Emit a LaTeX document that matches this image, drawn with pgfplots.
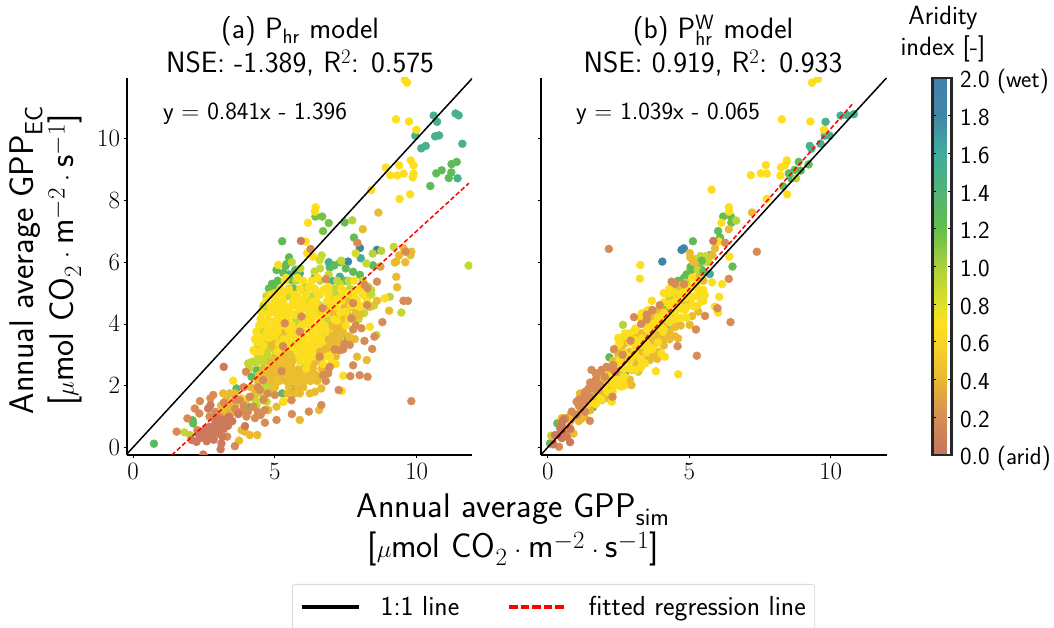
\documentclass[border=0pt]{standalone}
\usepackage{pgfplots}
\pgfplotsset{compat=1.18}
\renewcommand{\familydefault}{\sfdefault}
\pgfplotstableread[row sep=\\]{
x y m\\
10.60 10.75 1.5\\ 10.72 10.55 1.5\\ 9.95 10.10 1.5\\ 10.65 10.08 1.5\\ 10.79 10.11 1.5\\ 10.16 9.69 1.5\\ 10.32 9.77 1.5\\ 11.61 9.84 1.5\\ 11.37 10.82 1.5\\ 11.48 10.76 1.5\\ 11.44 8.72 1.5\\
10.48 8.47 1.25\\ 10.69 8.88 1.25\\ 10.88 8.98 1.25\\ 11.22 8.91 1.25\\ 11.13 8.73 1.25\\ 11.23 9.18 1.25\\ 11.41 9.25 1.25\\
6.43 7.48 1.15\\ 6.67 7.48 1.15\\ 6.90 7.27 1.15\\ 6.70 7.01 1.15\\ 5.26 6.68 1.25\\ 5.50 6.16 1.25\\ 7.46 7.29 1.2\\ 7.79 6.80 1.25\\ 5.41 5.94 1.2\\
8.00 6.46 1.85\\ 8.60 6.40 1.85\\ 7.58 6.02 1.8\\ 8.03 6.13 1.6\\ 5.73 5.75 1.6\\ 8.46 5.90 1.3\\ 6.94 5.83 1.3\\ 5.06 5.75 1.25\\ 5.37 5.86 1.25\\ 5.00 5.19 1.2\\ 4.79 5.15 1.2\\ 5.88 5.64 1.55\\ 5.59 5.42 1.2\\ 5.65 5.15 1.2\\ 6.94 5.86 1.3\\ 7.29 5.53 1.55\\ 7.76 5.69 1.25\\ 8.00 5.59 1.25\\ 4.77 4.40 1.25\\ 7.14 4.34 1.25\\ 7.17 3.86 1.25\\ 7.56 3.57 1.3\\ 4.36 2.51 1.25\\ 4.18 2.29 1.25\\ 3.65 1.91 1.3\\ 4.36 1.80 1.3\\ 5.26 1.75 1.3\\ 2.12 0.78 1.25\\ 2.10 0.88 1.25\\ 0.74 0.12 1.3\\ 6.1 5.2 1.2\\ 6.4 5.5 1.25\\ 7.0 5.4 1.5\\ 7.5 5.8 1.25\\ 5.4 2.9 1.5\\ 6.0 2.6 1.55\\ 6.5 2.2 1.3\\ 5.6 1.9 1.5\\ 4.1 1.3 1.3\\ 3.4 1.2 1.25\\ 5.1 5.4 1.25\\ 7.5 5.4 1.25\\ 5.3 5.65 1.25\\ 5.5 5.6 1.55\\ 5.7 5.7 1.25\\ 6.9 6.0 1.55\\ 7.1 5.9 1.25\\ 7.3 6.0 1.25\\ 4.9 5.3 1.25\\
7.73 7.36 0.95\\ 6.65 6.22 0.9\\ 6.58 6.07 0.85\\ 7.85 6.29 0.85\\ 8.45 6.28 0.95\\ 8.75 6.37 0.95\\ 9.19 6.50 0.9\\ 7.34 6.05 0.9\\ 8.23 5.96 0.9\\ 11.83 5.89 0.9\\ 4.59 4.40 0.9\\ 1.81 0.49 0.9\\ 2.01 0.40 0.95\\ 4.24 2.78 0.9\\ 4.06 2.72 0.9\\ 4.71 2.13 0.9\\ 4.88 2.18 0.9\\ 4.82 1.91 0.9\\ 4.59 1.53 0.9\\ 4.36 1.37 0.9\\ 4.71 1.48 0.9\\ 9.46 4.37 0.9\\ 9.05 4.88 0.95\\ 8.58 3.64 0.9\\ 8.40 5.10 0.9\\
4.4 3.0 0.9\\ 4.6 3.0 0.9\\ 4.8 3.3 0.9\\ 5.0 2.8 0.9\\ 5.2 3.7 0.9\\ 5.5 4.9 0.9\\ 5.9 4.6 0.9\\ 6.3 4.9 0.9\\ 6.6 5.8 0.9\\ 6.9 5.6 0.9\\ 7.3 5.3 0.9\\ 7.6 5.4 0.9\\ 8.2 4.9 0.9\\ 8.5 4.6 0.9\\ 8.3 5.2 0.9\\ 7.0 4.9 0.9\\ 6.4 5.7 0.9\\ 5.9 5.8 0.9\\ 5.6 6.0 0.9\\ 4.7 4.9 0.9\\ 4.6 4.6 0.9\\ 5.1 4.7 0.9\\ 6.2 4.3 0.9\\ 6.6 4.6 0.9\\ 6.8 3.3 0.9\\ 7.4 3.3 0.9\\ 4.9 2.9 0.9\\ 5.3 2.7 0.9\\ 5.7 2.9 0.9\\ 6.0 5.1 0.9\\ 5.2 4.3 0.9\\
5.75 5.4 0.9\\ 6.6 5.4 0.9\\ 7.2 5.4 0.9\\ 8.1 5.4 0.9\\ 5.5 5.15 0.9\\ 6.15 5.15 0.9\\ 7.1 5.15 0.9\\ 7.65 5.15 0.9\\ 7.15 4.95 0.9\\ 8.4 4.95 0.9\\ 6.2 4.75 0.9\\ 4.6 4.55 0.9\\ 7.7 4.55 0.9\\ 6.5 4.35 0.9\\ 8.15 4.35 0.9\\ 5.75 4.15 0.9\\ 6.85 4.15 0.9\\ 7.95 4.15 0.9\\ 5.85 3.95 0.9\\ 4.6 3.75 0.9\\ 5.25 3.55 0.9\\ 4.4 3.35 0.9\\ 4.65 3.35 0.9\\ 4.9 3.35 0.9\\ 5.7 3.35 0.9\\ 4.5 3.15 0.9\\ 4.75 3.15 0.9\\ 5.0 3.15 0.9\\ 4.5 2.95 0.9\\ 4.75 2.95 0.9\\ 4.15 2.75 0.9\\ 4.35 2.75 0.9\\ 4.6 2.75 0.9\\ 4.1 2.55 0.9\\ 4.6 2.15 0.9\\ 4.65 1.95 0.9\\ 4.5 1.75 0.9\\ 4.3 1.55 0.9\\ 3.3 1.35 0.9\\
8.65 7.61 0.42\\ 8.10 7.07 0.42\\ 9.28 6.02 0.42\\ 9.60 6.00 0.42\\ 9.38 6.22 0.42\\ 9.54 6.45 0.42\\ 9.81 6.34 0.42\\ 9.78 6.23 0.42\\ 9.23 5.99 0.42\\ 9.31 5.19 0.42\\ 9.28 5.53 0.42\\ 9.54 4.75 0.42\\ 9.03 4.43 0.42\\ 7.90 2.94 0.42\\ 8.24 2.83 0.42\\ 7.82 3.51 0.42\\ 5.88 0.89 0.42\\ 6.56 1.21 0.42\\ 6.23 1.75 0.42\\ 6.41 1.80 0.42\\ 6.64 1.91 0.42\\ 5.88 1.75 0.42\\ 5.30 1.48 0.42\\ 5.06 1.32 0.42\\ 4.77 1.21 0.42\\ 3.18 1.75 0.42\\ 3.42 1.75 0.42\\ 3.47 1.32 0.42\\ 3.94 0.51 0.42\\ 3.83 0.56 0.42\\ 4.12 0.40 0.42\\ 4.38 0.40 0.42\\ 3.74 0.22 0.42\\
5.0 2.6 0.42\\ 5.2 2.2 0.42\\ 5.0 2.0 0.42\\ 4.8 2.3 0.42\\ 4.6 2.5 0.42\\ 5.4 3.0 0.42\\ 5.5 2.4 0.42\\ 5.8 2.3 0.42\\ 6.0 2.1 0.42\\ 6.3 2.6 0.42\\ 6.6 3.6 0.42\\ 7.0 3.3 0.42\\ 7.1 3.9 0.42\\ 7.4 4.2 0.42\\ 7.6 3.6 0.42\\ 5.2 4.4 0.42\\ 4.9 3.3 0.42\\ 5.2 3.1 0.42\\ 7.8 4.2 0.42\\ 8.0 4.3 0.42\\
7.6 4.75 0.42\\ 8.6 4.75 0.42\\ 6.9 4.55 0.42\\ 7.45 4.55 0.42\\ 8.35 4.55 0.42\\ 7.05 4.35 0.42\\ 7.55 4.35 0.42\\ 7.85 4.35 0.42\\ 7.35 4.15 0.42\\ 7.0 3.95 0.42\\ 7.3 3.95 0.42\\ 5.35 3.75 0.42\\ 6.85 3.75 0.42\\ 7.15 3.75 0.42\\ 7.4 3.75 0.42\\ 5.05 3.55 0.42\\ 7.1 3.55 0.42\\ 7.3 3.55 0.42\\ 7.65 3.55 0.42\\ 6.95 3.35 0.42\\ 7.2 3.35 0.42\\ 5.3 3.15 0.42\\ 6.8 3.15 0.42\\ 7.05 3.15 0.42\\ 5.05 2.95 0.42\\ 5.25 2.95 0.42\\ 5.55 2.95 0.42\\ 6.6 2.95 0.42\\ 7.15 2.95 0.42\\ 4.85 2.75 0.42\\ 5.15 2.75 0.42\\ 5.35 2.75 0.42\\ 5.6 2.75 0.42\\ 6.4 2.75 0.42\\ 6.65 2.75 0.42\\ 4.6 2.55 0.42\\ 4.85 2.55 0.42\\ 5.1 2.55 0.42\\ 5.35 2.55 0.42\\ 5.6 2.55 0.42\\ 5.85 2.55 0.42\\ 6.35 2.55 0.42\\ 6.65 2.55 0.42\\ 4.45 2.35 0.42\\ 4.7 2.35 0.42\\ 4.95 2.35 0.42\\ 5.2 2.35 0.42\\ 5.45 2.35 0.42\\ 5.7 2.35 0.42\\ 5.95 2.35 0.42\\ 6.2 2.35 0.42\\ 6.45 2.35 0.42\\ 4.4 2.15 0.42\\ 4.9 2.15 0.42\\ 5.15 2.15 0.42\\ 5.4 2.15 0.42\\ 5.6 2.15 0.42\\ 5.8 2.15 0.42\\ 6.05 2.15 0.42\\ 6.25 2.15 0.42\\ 6.5 2.15 0.42\\ 4.15 1.95 0.42\\ 5.0 1.95 0.42\\ 5.5 1.95 0.42\\ 5.8 1.95 0.42\\ 6.0 1.95 0.42\\ 3.6 1.75 0.42\\ 4.3 1.75 0.42\\ 5.45 1.75 0.42\\ 5.7 1.75 0.42\\ 3.3 1.55 0.42\\ 4.0 1.55 0.42\\ 3.1 1.35 0.42\\ 3.6 1.35 0.42\\ 3.2 1.15 0.42\\ 3.5 1.15 0.42\\
8.25 5.15 0.2\\ 7.85 3.95 0.2\\ 7.45 3.35 0.2\\ 7.3 3.15 0.2\\ 6.9 2.55 0.2\\ 6.7 2.35 0.2\\ 6.8 2.15 0.2\\ 3.9 1.95 0.2\\ 4.4 1.95 0.2\\ 4.75 1.75 0.2\\ 3.6 1.55 0.2\\ 4.6 1.55 0.2\\ 3.9 1.35 0.2\\ 2.9 1.15 0.2\\ 3.8 1.15 0.2\\ 4.05 1.15 0.2\\ 4.4 1.15 0.2\\ 2.7 1.0 0.2\\ 3.0 1.0 0.2\\ 3.4 1.0 0.2\\ 3.6 1.25 0.2\\ 4.0 1.0 0.2\\ 4.3 0.95 0.2\\ 4.5 1.05 0.2\\ 3.2 1.45 0.2\\
4.3 3.5 0.68\\ 4.4 3.4 0.68\\ 4.6 3.3 0.68\\ 4.5 3.1 0.68\\ 4.3 3.1 0.68\\ 4.7 3.7 0.68\\ 4.9 3.9 0.68\\ 5.0 4.1 0.68\\ 4.7 4.0 0.68\\ 4.9 4.4 0.68\\ 5.2 4.6 0.68\\ 5.4 4.5 0.68\\ 5.6 4.6 0.68\\ 5.8 4.9 0.68\\ 5.0 5.0 0.68\\ 5.3 5.0 0.68\\ 5.5 5.1 0.68\\ 5.3 4.2 0.68\\ 5.7 4.3 0.68\\ 6.0 4.5 0.68\\ 6.3 4.7 0.68\\ 6.5 5.0 0.68\\ 6.7 5.1 0.68\\ 6.9 5.2 0.68\\ 6.4 4.3 0.68\\ 6.7 4.4 0.68\\ 7.0 4.6 0.68\\ 7.2 4.8 0.68\\ 7.5 5.0 0.68\\ 7.8 4.9 0.68\\ 8.0 4.6 0.68\\ 7.9 5.1 0.68\\ 5.5 3.8 0.68\\ 5.9 3.9 0.68\\ 6.1 4.0 0.68\\ 6.3 3.6 0.68\\ 6.0 3.5 0.68\\ 5.8 3.4 0.68\\ 6.2 3.2 0.68\\ 6.5 3.5 0.68\\ 6.6 3.2 0.68\\ 6.4 3.0 0.68\\ 6.2 2.9 0.68\\ 6.7 2.7 0.68\\ 6.9 3.0 0.68\\ 5.3 3.5 0.68\\ 5.0 3.6 0.68\\ 5.1 3.1 0.68\\ 5.6 3.2 0.68\\ 5.9 3.0 0.68\\ 6.0 4.8 0.68\\ 6.2 5.2 0.68\\ 5.8 5.5 0.68\\ 6.0 5.4 0.68\\ 6.5 5.5 0.68\\ 5.4 5.5 0.68\\ 7.0 3.6 0.68\\ 7.2 4.1 0.68\\ 6.8 3.8 0.68\\ 7.5 4.4 0.68\\ 7.7 4.6 0.68\\ 8.35 3.91 0.68\\ 8.87 4.83 0.68\\ 7.15 2.70 0.68\\ 7.41 2.32 0.68\\ 6.94 2.94 0.68\\ 7.36 1.83 0.68\\ 5.32 1.50 0.68\\ 3.53 2.16 0.68\\ 3.83 1.59 0.68\\
5.35 5.4 0.68\\ 6.3 5.4 0.68\\ 7.8 5.4 0.68\\ 5.2 5.15 0.68\\ 5.9 5.15 0.68\\ 6.4 5.15 0.68\\ 6.8 5.15 0.68\\ 7.35 5.15 0.68\\ 8.0 5.15 0.68\\ 4.85 4.95 0.68\\ 5.1 4.95 0.68\\ 5.7 4.95 0.68\\ 6.1 4.95 0.68\\ 6.6 4.95 0.68\\ 6.9 4.95 0.68\\ 7.4 4.95 0.68\\ 7.7 4.95 0.68\\ 8.1 4.95 0.68\\ 4.7 4.75 0.68\\ 5.0 4.75 0.68\\ 5.3 4.75 0.68\\ 5.65 4.75 0.68\\ 5.95 4.75 0.68\\ 6.45 4.75 0.68\\ 6.85 4.75 0.68\\ 7.1 4.75 0.68\\ 7.35 4.75 0.68\\ 7.9 4.75 0.68\\ 8.25 4.75 0.68\\ 4.85 4.55 0.68\\ 5.1 4.55 0.68\\ 5.45 4.55 0.68\\ 5.8 4.55 0.68\\ 6.1 4.55 0.68\\ 6.35 4.55 0.68\\ 6.55 4.55 0.68\\ 7.15 4.55 0.68\\ 8.0 4.55 0.68\\ 4.55 4.35 0.68\\ 4.8 4.35 0.68\\ 5.05 4.35 0.68\\ 5.3 4.35 0.68\\ 5.55 4.35 0.68\\ 5.85 4.35 0.68\\ 6.2 4.35 0.68\\ 6.8 4.35 0.68\\ 7.3 4.35 0.68\\ 4.5 4.15 0.68\\ 4.75 4.15 0.68\\ 5.15 4.15 0.68\\ 5.45 4.15 0.68\\ 6.0 4.15 0.68\\ 6.3 4.15 0.68\\ 6.6 4.15 0.68\\ 7.1 4.15 0.68\\ 7.6 4.15 0.68\\ 4.45 3.95 0.68\\ 4.7 3.95 0.68\\ 5.05 3.95 0.68\\ 5.3 3.95 0.68\\ 5.6 3.95 0.68\\ 6.25 3.95 0.68\\ 6.5 3.95 0.68\\ 6.75 3.95 0.68\\ 7.5 3.95 0.68\\ 4.35 3.75 0.68\\ 4.85 3.75 0.68\\ 5.1 3.75 0.68\\ 5.65 3.75 0.68\\ 6.0 3.75 0.68\\ 6.3 3.75 0.68\\ 6.55 3.75 0.68\\ 4.35 3.55 0.68\\ 4.55 3.55 0.68\\ 4.8 3.55 0.68\\ 5.5 3.55 0.68\\ 5.75 3.55 0.68\\ 6.05 3.55 0.68\\ 6.35 3.55 0.68\\ 6.6 3.55 0.68\\ 6.85 3.55 0.68\\ 5.15 3.35 0.68\\ 5.45 3.35 0.68\\ 5.95 3.35 0.68\\ 6.2 3.35 0.68\\ 6.45 3.35 0.68\\ 6.7 3.35 0.68\\ 4.25 3.15 0.68\\ 5.55 3.15 0.68\\ 5.8 3.15 0.68\\ 6.05 3.15 0.68\\ 6.3 3.15 0.68\\ 6.55 3.15 0.68\\ 5.85 2.95 0.68\\ 6.1 2.95 0.68\\ 6.35 2.95 0.68\\ 6.85 2.95 0.68\\ 5.9 2.75 0.68\\ 6.15 2.75 0.68\\ 7.0 2.75 0.68\\ 6.1 2.55 0.68\\
9.58 11.91 0.68\\ 9.66 11.82 0.68\\ 9.27 10.63 0.68\\ 9.73 10.56 0.68\\ 9.99 10.29 0.68\\ 8.91 9.07 0.68\\ 9.38 9.14 0.68\\ 9.07 8.82 0.68\\ 9.32 8.81 0.68\\ 9.54 8.87 0.68\\ 9.79 9.30 0.68\\ 9.89 9.14 0.68\\ 9.89 8.87 0.68\\ 9.86 8.75 0.68\\ 8.40 8.34 0.68\\ 9.40 8.05 0.68\\ 9.77 8.20 0.68\\ 6.44 7.78 0.68\\ 6.41 7.64 0.68\\ 6.17 7.28 0.68\\ 6.09 6.67 0.68\\ 6.14 6.29 0.68\\ 6.35 6.18 0.68\\ 5.12 5.91 0.68\\
5.5 2.3 0.45\\ 5.65 2.2 0.45\\ 5.8 2.15 0.45\\ 5.95 2.3 0.45\\ 6.1 2.2 0.45\\ 6.3 2.25 0.45\\ 5.45 2.45 0.45\\ 5.65 2.4 0.45\\ 5.4 2.95 0.45\\ 5.55 3.0 0.45\\ 5.3 2.95 0.45\\ 5.1 2.2 0.45\\ 5.0 2.0 0.45\\ 6.6 3.1 0.4\\ 6.9 3.5 0.4\\ 6.8 3.2 0.4\\ 5.25 2.75 0.45\\ 5.5 2.7 0.45\\ 7.05 3.6 0.4\\ 7.2 3.85 0.4\\
6.26 6.43 0.2\\ 7.91 6.63 0.2\\ 9.61 6.34 0.2\\ 8.72 5.86 0.3\\ 1.54 0.51 0.2\\ 1.92 0.94 0.2\\ 2.18 1.26 0.2\\ 2.34 1.10 0.2\\ 2.36 1.50 0.2\\ 2.83 1.70 0.2\\ 2.73 1.59 0.2\\ 2.27 0.56 0.2\\ 3.32 0.35 0.2\\ 3.59 0.04 0.2\\ 3.06 0.99 0.2\\ 3.98 2.45 0.2\\ 4.65 0.80 0.2\\ 5.06 0.89 0.2\\ 5.60 1.08 0.2\\ 6.20 1.16 0.2\\ 6.64 1.37 0.2\\ 5.59 1.53 0.2\\ 7.25 1.86 0.2\\ 7.76 2.66 0.2\\ 7.99 2.34 0.2\\ 8.27 2.29 0.2\\ 7.66 2.31 0.2\\ 9.81 1.50 0.2\\ 8.79 4.06 0.2\\ 8.43 3.19 0.2\\ 8.16 3.45 0.2\\ 8.51 3.59 0.2\\ 8.05 3.86 0.2\\ 7.76 3.82 0.2\\ 7.64 3.32 0.2\\ 7.11 3.18 0.2\\ 7.41 3.18 0.2\\ 6.94 2.61 0.2\\ 6.88 2.40 0.2\\ 6.58 2.94 0.2\\ 5.88 3.75 0.2\\ 5.29 3.28 0.2\\ 5.35 4.02 0.2\\ 5.94 4.24 0.2\\ 6.68 4.51 0.2\\ 8.25 4.61 0.2\\ 7.76 4.67 0.2\\ 8.60 5.37 0.2\\ 9.54 4.75 0.2\\ 9.69 4.75 0.2\\ 6.80 5.45 0.2\\ 8.17 5.26 0.2\\ 7.70 4.18 0.2\\ 4.24 1.32 0.2\\ 4.65 1.21 0.2\\ 5.00 1.70 0.2\\ 4.47 1.86 0.2\\ 4.12 1.64 0.2\\ 3.77 1.53 0.2\\ 4.59 2.18 0.2\\ 5.24 2.47 0.2\\
2.48 0.35 0.05\\ 2.65 0.45 0.05\\ 2.83 0.62 0.05\\ 3.00 0.78 0.05\\ 3.18 0.89 0.05\\ 3.36 0.99 0.05\\ 2.71 0.67 0.05\\ 2.89 0.45 0.05\\ 3.06 0.62 0.05\\ 2.48 0.51 0.05\\ 2.24 0.18 0.05\\ 2.07 0.24 0.05\\ 3.12 0.13 0.05\\ 3.09 -0.06 0.05\\ 2.48 -0.23 0.05\\ 2.65 1.26 0.05\\ 2.73 1.37 0.05\\ 3.71 1.08 0.05\\ 3.95 0.69 0.05\\ 3.20 2.61 0.05\\ 5.92 6.69 0.05\\ 2.60 0.30 0.05\\ 2.95 0.70 0.05\\ 3.25 0.80 0.05\\ 2.75 0.5 0.05\\ 2.55 0.6 0.05\\ 2.9 0.85 0.05\\ 3.1 0.75 0.05\\ 2.35 0.3 0.05\\ 3.3 0.9 0.05\\ 3.5 0.85 0.05\\ 3.2 0.6 0.05\\ 3.35 0.7 0.05\\ 2.6 0.2 0.05\\ 2.75 0.3 0.05\\ 3.0 0.45 0.05\\ 3.15 0.35 0.05\\ 2.85 0.25 0.05\\ 2.3 0.45 0.05\\ 2.95 0.95 0.05\\
}\tableA
\pgfplotstableread[row sep=\\]{
x y m\\
10.35 10.75 1.5\\ 10.59 10.76 1.5\\ 10.82 10.80 1.5\\ 9.82 10.55 1.5\\ 9.79 10.10 1.5\\ 9.96 10.10 1.5\\ 9.64 9.84 1.5\\ 9.26 9.77 1.5\\ 9.32 9.68 1.5\\ 8.61 8.72 1.5\\ 8.32 8.46 1.25\\ 8.52 8.88 1.25\\ 8.87 9.25 1.25\\ 8.73 8.99 1.25\\ 8.94 8.97 1.25\\ 9.22 9.17 1.25\\ 8.78 8.72 0.95\\
6.20 7.48 1.2\\ 6.47 7.48 1.2\\ 6.49 7.28 1.2\\ 6.02 7.01 1.25\\ 6.09 6.80 1.25\\ 5.13 6.68 1.25\\ 6.53 5.86 1.2\\ 5.47 6.02 1.3\\ 6.66 7.35 0.95\\ 4.05 6.02 1.85\\ 4.73 6.40 1.85\\ 4.81 6.45 1.85\\ 5.74 6.23 1.6\\ 5.73 5.62 1.6\\
5.2 6.1 0.9\\ 5.4 6.2 0.9\\ 5.6 6.2 0.9\\ 5.7 6.0 0.9\\ 5.3 5.9 0.9\\ 5.5 6.0 0.9\\ 5.1 5.8 0.9\\ 5.0 5.7 0.9\\ 5.05 5.85 1.25\\ 4.82 5.5 1.25\\ 4.61 5.40 1.25\\ 5.30 5.80 1.25\\ 5.44 6.05 1.25\\ 5.45 5.75 1.25\\
7.22 7.61 0.42\\ 6.40 7.07 0.42\\ 5.02 6.30 0.42\\ 5.04 6.15 0.42\\ 5.14 6.02 0.42\\ 5.91 6.45 0.42\\ 5.82 6.23 0.42\\ 5.32 5.42 0.42\\ 5.20 5.96 0.42\\ 5.40 5.70 0.42\\
2.66 3.97 0.95\\ 2.18 2.92 1.25\\ 3.34 4.10 1.25\\ 0.34 0.78 1.25\\ 0.08 0.13 1.25\\ 0.12 0.38 0.9\\ 2.0 2.1 1.25\\ 1.6 1.3 1.25\\ 1.2 0.95 1.55\\ 2.75 2.45 1.25\\ 3.2 2.45 0.9\\ 3.0 2.95 1.55\\ 4.2 3.9 1.25\\ 4.5 4.0 1.55\\ 5.0 4.7 0.9\\ 4.5 5.2 0.9\\ 4.4 4.9 1.25\\ 4.7 5.1 0.9\\ 4.9 5.1 0.9\\ 4.5 4.7 0.9\\ 4.2 4.5 1.25\\ 1.25 1.0 0.9\\ 3.4 3.4 0.9\\ 2.2 1.9 1.2\\ 4.3 4.3 0.9\\ 4.3 4.85 0.9\\ 4.7 4.75 0.9\\ 4.7 5.05 0.9\\ 4.9 5.35 0.9\\ 4.9 5.6 1.25\\ 5.1 5.2 0.9\\ 5.1 5.75 1.25\\ 5.3 5.75 0.9\\ 5.5 5.7 1.25\\
1.14 1.75 0.42\\ 0.91 0.45 0.42\\ 2.14 2.02 0.42\\ 2.61 3.16 0.42\\ 2.67 2.83 0.42\\ 2.96 2.51 0.42\\ 2.91 2.05 0.42\\ 3.20 2.56 0.42\\ 3.61 2.83 0.42\\ 3.79 3.37 0.42\\ 4.08 3.48 0.42\\ 4.61 3.53 0.42\\ 4.49 4.02 0.42\\ 5.02 3.97 0.42\\ 5.32 4.40 0.42\\ 4.91 4.67 0.42\\ 3.55 3.97 0.42\\ 3.67 4.45 0.42\\ 3.91 3.48 0.42\\ 2.38 2.02 0.42\\ 1.91 1.53 0.42\\ 1.55 1.43 0.42\\ 2.96 2.02 0.42\\ 3.87 2.87 0.42\\ 3.1 2.9 0.42\\ 2.2 2.4 0.42\\ 3.4 3.1 0.42\\ 4.2 3.7 0.42\\ 3.9 4.0 0.42\\ 4.4 4.3 0.42\\ 4.1 4.4 0.42\\ 3.7 4.2 0.42\\ 1.4 1.2 0.42\\ 1.8 2.2 0.42\\ 0.7 0.6 0.42\\ 1.0 1.0 0.42\\
0.2 0.35 0.42\\ 0.5 0.55 0.42\\ 0.5 0.95 0.42\\ 0.8 0.85 0.42\\ 0.8 1.05 0.42\\ 0.8 0.45 0.42\\ 1.1 0.85 0.42\\ 1.1 1.1 0.42\\ 1.3 1.0 0.42\\ 1.5 1.2 0.42\\ 1.7 1.6 0.42\\ 1.9 1.75 0.42\\ 1.9 2.25 0.42\\ 2.1 1.6 0.42\\ 2.1 2.05 0.42\\ 2.3 2.3 0.42\\ 2.3 2.8 0.42\\ 2.5 2.25 0.42\\ 2.5 2.5 0.42\\ 2.5 3.0 0.42\\ 2.7 2.8 0.42\\ 2.7 3.35 0.42\\ 2.9 2.2 0.42\\ 2.9 3.1 0.42\\ 3.1 2.75 0.42\\ 3.1 3.55 0.42\\ 3.3 3.1 0.42\\ 3.3 3.7 0.42\\ 3.5 2.85 0.42\\ 3.5 3.6 0.42\\ 3.5 4.4 0.42\\ 3.7 2.95 0.42\\ 3.7 3.5 0.42\\ 3.7 3.75 0.42\\ 3.7 4.25 0.42\\ 3.9 3.1 0.42\\ 3.9 3.65 0.42\\ 3.9 4.45 0.42\\ 4.1 3.3 0.42\\ 4.1 3.6 0.42\\ 4.1 4.1 0.42\\ 4.3 3.5 0.42\\ 4.3 3.75 0.42\\ 4.5 3.6 0.42\\ 4.5 3.9 0.42\\ 4.7 3.95 0.42\\ 4.7 5.25 0.42\\ 5.1 4.25 0.42\\ 5.3 5.5 0.42\\ 5.5 5.4 0.42\\
2.26 1.48 0.68\\ 1.85 1.59 0.68\\ 2.49 3.53 0.68\\ 2.55 3.37 0.68\\ 2.73 3.69 0.68\\ 3.08 3.80 0.68\\ 3.32 3.53 0.68\\ 3.55 3.21 0.68\\ 3.08 3.48 0.68\\ 2.96 2.94 0.68\\ 3.44 2.72 0.68\\ 2.61 1.97 0.68\\ 2.67 2.13 0.68\\ 2.49 2.18 0.68\\ 3.32 4.34 0.68\\ 4.08 3.75 0.68\\ 4.26 4.99 0.68\\ 4.38 4.67 0.68\\ 4.73 4.99 0.68\\ 5.32 4.99 0.68\\ 5.55 4.94 0.68\\ 5.44 4.78 0.68\\ 5.08 4.83 0.68\\ 5.20 4.56 0.68\\ 4.85 4.45 0.68\\ 4.49 4.45 0.68\\ 4.26 4.29 0.68\\ 4.02 4.18 0.68\\ 3.79 4.02 0.68\\ 3.55 3.80 0.68\\ 3.32 3.32 0.68\\ 3.08 3.16 0.68\\ 2.85 2.94 0.68\\ 2.55 2.83 0.68\\ 2.26 2.29 0.68\\ 2.02 1.97 0.68\\ 3.55 4.45 0.68\\ 3.27 5.91 0.68\\ 3.26 5.47 0.68\\ 5.81 5.35 0.68\\ 6.16 5.29 0.68\\ 6.06 4.88 0.68\\ 5.91 4.56 0.68\\ 6.02 4.37 0.68\\ 4.61 2.37 0.68\\ 3.82 2.47 0.68\\ 4.14 2.94 0.68\\ 4.02 3.03 0.68\\ 3.68 4.75 0.68\\ 5.24 5.3 0.68\\ 5.0 5.2 0.68\\ 4.55 4.8 0.68\\
1.3 1.25 0.68\\ 1.5 1.45 0.68\\ 1.7 1.4 0.68\\ 1.9 1.55 0.68\\ 1.9 2.0 0.68\\ 2.1 1.8 0.68\\ 2.1 2.3 0.68\\ 2.3 1.8 0.68\\ 2.3 2.05 0.68\\ 2.5 2.0 0.68\\ 2.5 2.75 0.68\\ 2.5 3.3 0.68\\ 2.5 3.55 0.68\\ 2.7 2.0 0.68\\ 2.7 2.3 0.68\\ 2.7 2.55 0.68\\ 2.7 3.05 0.68\\ 2.7 3.6 0.68\\ 2.9 2.55 0.68\\ 2.9 2.8 0.68\\ 2.9 3.4 0.68\\ 2.9 3.7 0.68\\ 3.1 2.5 0.68\\ 3.1 3.0 0.68\\ 3.1 3.3 0.68\\ 3.1 3.85 0.68\\ 3.3 2.6 0.68\\ 3.3 2.85 0.68\\ 3.3 3.4 0.68\\ 3.3 4.2 0.68\\ 3.5 3.1 0.68\\ 3.5 3.35 0.68\\ 3.5 3.85 0.68\\ 3.7 3.2 0.68\\ 3.7 4.0 0.68\\ 3.9 3.4 0.68\\ 3.9 3.9 0.68\\ 3.9 4.2 0.68\\ 4.1 3.85 0.68\\ 4.1 4.35 0.68\\ 4.1 4.7 0.68\\ 4.1 5.0 0.68\\ 4.3 4.05 0.68\\ 4.3 4.6 0.68\\ 4.3 5.15 0.68\\ 4.5 4.15 0.68\\ 4.5 4.4 0.68\\ 4.5 5.0 0.68\\ 4.7 4.2 0.68\\ 4.7 4.5 0.68\\ 4.7 4.8 0.68\\ 4.9 4.2 0.68\\ 4.9 4.55 0.68\\ 4.9 4.85 0.68\\ 4.9 5.1 0.68\\ 5.1 4.6 0.68\\ 5.1 4.9 0.68\\ 5.1 5.5 0.68\\ 5.3 4.6 0.68\\ 5.3 4.9 0.68\\ 5.3 5.15 0.68\\ 5.5 4.75 0.68\\ 5.5 5.1 0.68\\
9.34 11.82 0.68\\ 9.55 11.94 0.68\\ 8.27 10.63 0.68\\ 9.28 10.56 0.68\\ 9.76 10.29 0.68\\ 5.79 8.35 0.68\\ 7.18 8.82 0.68\\ 7.53 8.88 0.68\\ 7.74 8.87 0.68\\ 7.71 9.15 0.68\\ 8.22 8.81 0.68\\ 8.24 9.07 0.68\\ 8.38 9.14 0.68\\ 8.45 9.30 0.68\\ 7.74 8.05 0.68\\ 8.46 8.20 0.68\\ 6.40 7.78 0.68\\ 6.41 7.64 0.68\\ 6.14 7.28 0.68\\ 6.05 6.67 0.68\\ 6.42 6.18 0.68\\
1.55 2.51 0.2\\ 1.73 2.34 0.2\\ 1.91 2.51 0.2\\ 2.08 2.61 0.2\\ 2.32 2.67 0.2\\ 2.02 2.29 0.2\\ 1.67 2.13 0.2\\ 1.44 1.91 0.2\\ 1.32 1.80 0.2\\ 1.02 1.48 0.2\\ 1.14 1.32 0.2\\ 0.85 1.16 0.2\\ 0.61 0.94 0.2\\ 0.49 0.78 0.2\\ 2.38 2.45 0.2\\ 1.85 2.02 0.2\\ 1.55 1.97 0.2\\ 2.29 1.64 0.2\\ 1.32 1.16 0.2\\ 1.02 1.05 0.2\\ 2.16 6.43 0.2\\ 7.39 6.34 0.2\\ 6.27 6.63 0.2\\ 6.40 5.46 0.2\\ 6.00 4.51 0.2\\ 6.46 4.06 0.2\\ 5.56 4.26 0.2\\ 5.24 3.82 0.2\\ 4.59 3.28 0.2\\ 5.27 2.97 0.2\\ 3.05 4.22 0.2\\ 3.96 4.61 0.2\\ 4.38 5.37 0.2\\ 4.82 5.29 0.2\\ 2.34 3.18 0.2\\ 2.93 3.46 0.2\\ 1.49 0.86 0.2\\ 0.40 0.02 0.2\\ 3.5 4.3 0.2\\ 3.7 4.45 0.2\\ 2.65 3.0 0.2\\
1.1 1.35 0.2\\ 1.1 1.55 0.2\\ 1.3 1.5 0.2\\ 1.3 1.7 0.2\\ 1.5 1.65 0.2\\ 1.5 1.9 0.2\\ 1.5 2.1 0.2\\ 1.7 1.85 0.2\\ 1.7 2.2 0.2\\ 1.7 2.4 0.2\\ 1.9 2.5 0.2\\ 2.1 2.6 0.2\\ 2.3 2.55 0.2\\ 3.5 4.15 0.2\\ 3.3 4.0 0.2\\ 4.5 5.3 0.2\\
0.79 0.17 0.05\\ 0.26 -0.25 0.05\\ 0.55 0.89 0.05\\ 0.55 0.45 0.05\\ 0.67 0.35 0.05\\ 0.38 0.40 0.05\\ 0.44 0.62 0.05\\ 0.26 0.40 0.05\\ 5.85 6.69 0.05\\ 0.2 0.1 0.05\\ 0.5 0.3 0.05\\ 0.5 0.75 0.05\\ 0.8 0.6 0.05\\
}\tableB
\pgfplotsset{
  colormap={aridity}{
    rgb255(0pt)=(200,115,95) rgb255(2pt)=(215,140,85) rgb255(4pt)=(232,184,50)
    rgb255(6pt)=(250,212,40) rgb255(7pt)=(253,224,28) rgb255(8pt)=(222,225,40)
    rgb255(10pt)=(172,208,60) rgb255(12pt)=(100,190,75) rgb255(14pt)=(80,180,120)
    rgb255(16pt)=(65,172,158) rgb255(18pt)=(65,135,165) rgb255(20pt)=(64,128,170)},
  panel/.style={
    at={(#1,173pt)}, anchor=south west, scale only axis, height=377pt,
    axis x line*=bottom, axis y line*=left, axis line style={line width=2.2pt,-},
    tick style={black,line width=0.8pt}, tick align=outside, major tick length=3.5pt,
    xtick={0,5,10}, ytick={0,2,4,6,8,10}, ymin=-0.246, ymax=11.97,
    tick label style={font=\fontsize{23}{27}\selectfont},
    xticklabel style={yshift=-1pt},
    point meta min=0, point meta max=2, clip marker paths=true,
    scatter/use mapped color={draw=mapped color,fill=mapped color},
  },
  pts/.style={scatter, only marks, mark=*, mark size=4pt, scatter src=explicit, forget plot},
}
\begin{document}
\begin{tikzpicture}[x=1pt,y=1pt]
\path[use as bounding box] (0,0) rectangle (1054,628);
\begin{axis}[panel={127pt}, width=345pt, xmin=-0.21, xmax=11.95,
  colorbar, colorbar style={at={(2.335,0)}, anchor=south west, width=19pt, height=377pt,
    ytick={0,0.2,...,2.0},
    yticklabels={0.0 (arid),0.2,0.4,0.6,0.8,1.0,1.2,1.4,1.6,1.8,2.0 (wet)},
    yticklabel pos=right,
    tick label style={font=\fontsize{24.5}{28}\selectfont},
    axis line style={line width=2.2pt,black!85},
    major tick length=3.5pt, tick style={black,line width=0.8pt},
    yticklabel style={anchor=west,xshift=5pt,yshift=-2pt,text height=16pt,text depth=0pt},
  },
  legend style={legend cell align=left, at={(165pt,-129pt)}, anchor=north west, legend columns=2,
    draw=black!15, rounded corners=3pt, line width=0.8pt, font=\fontsize{27.5}{32}\selectfont,
    inner xsep=7pt, inner ysep=10pt,
    /tikz/every odd column/.append style={column sep=18pt},
    /tikz/every even column/.append style={column sep=46pt}},
  legend image code/.code={\draw[#1] (0pt,0pt) -- (57pt,0pt);},
  ]
\addplot[pts] table[x=x,y=y,meta=m] {\tableA};
\addplot[black,line width=1.5pt,forget plot] coordinates {(-0.21,-0.21) (11.97,11.97)};
\addplot[red,dash pattern=on 4.5pt off 2.5pt,line width=1.5pt,forget plot] coordinates {(1.37,-0.246) (11.84,8.56)};
\addlegendimage{black,line width=4.2pt}
\addlegendentry{1:1 line}
\addlegendimage{red,line width=4.2pt,dash pattern=on 8.5pt off 3pt}
\addlegendentry{fitted regression line}
\end{axis}
\begin{axis}[panel={541pt}, width=346pt, xmin=-0.237, xmax=11.99, yticklabels={}]
\addplot[pts] table[x=x,y=y,meta=m] {\tableB};
\addplot[red,dash pattern=on 4.5pt off 2.5pt,line width=1.5pt] coordinates {(0.18,0.12) (10.82,11.18)};
\addplot[black,line width=1.5pt] coordinates {(-0.237,-0.237) (11.97,11.97)};
\end{axis}
\node[align=center,font=\fontsize{29.4}{34}\selectfont] at (300,582) {(a) P$_{\mathsf{hr}}$ model\\NSE: -1.389, R$^2$: 0.575};
\node[align=center,font=\fontsize{29.4}{34}\selectfont] at (713,582) {(b) P$_{\mathsf{hr}}^{\mathsf{W}}$ model\\NSE: 0.919, R$^2$: 0.933};
\node[font=\fontsize{24.7}{28}\selectfont] at (255,514) {y = 0.841x - 1.396};
\node[font=\fontsize{24.7}{28}\selectfont] at (668,514) {y = 1.039x - 0.065};
\node[align=center,font=\fontsize{26.4}{31}\selectfont] at (943,594) {Aridity\\index [-]};
\node[align=center,rotate=90,font=\fontsize{34.2}{40}\selectfont] at (46,368) {Annual average GPP$_{\mathsf{EC}}$\\{}[$\mu$mol CO$_2\;\cdot\;$m$^{-2}\;\cdot\;$s$^{-1}$]};
\node[align=center,font=\fontsize{34.2}{40}\selectfont] at (513,98) {Annual average GPP$_{\mathsf{sim}}$\\{}[$\mu$mol CO$_2\;\cdot\;$m$^{-2}\;\cdot\;$s$^{-1}$]};
\end{tikzpicture}
\end{document}
